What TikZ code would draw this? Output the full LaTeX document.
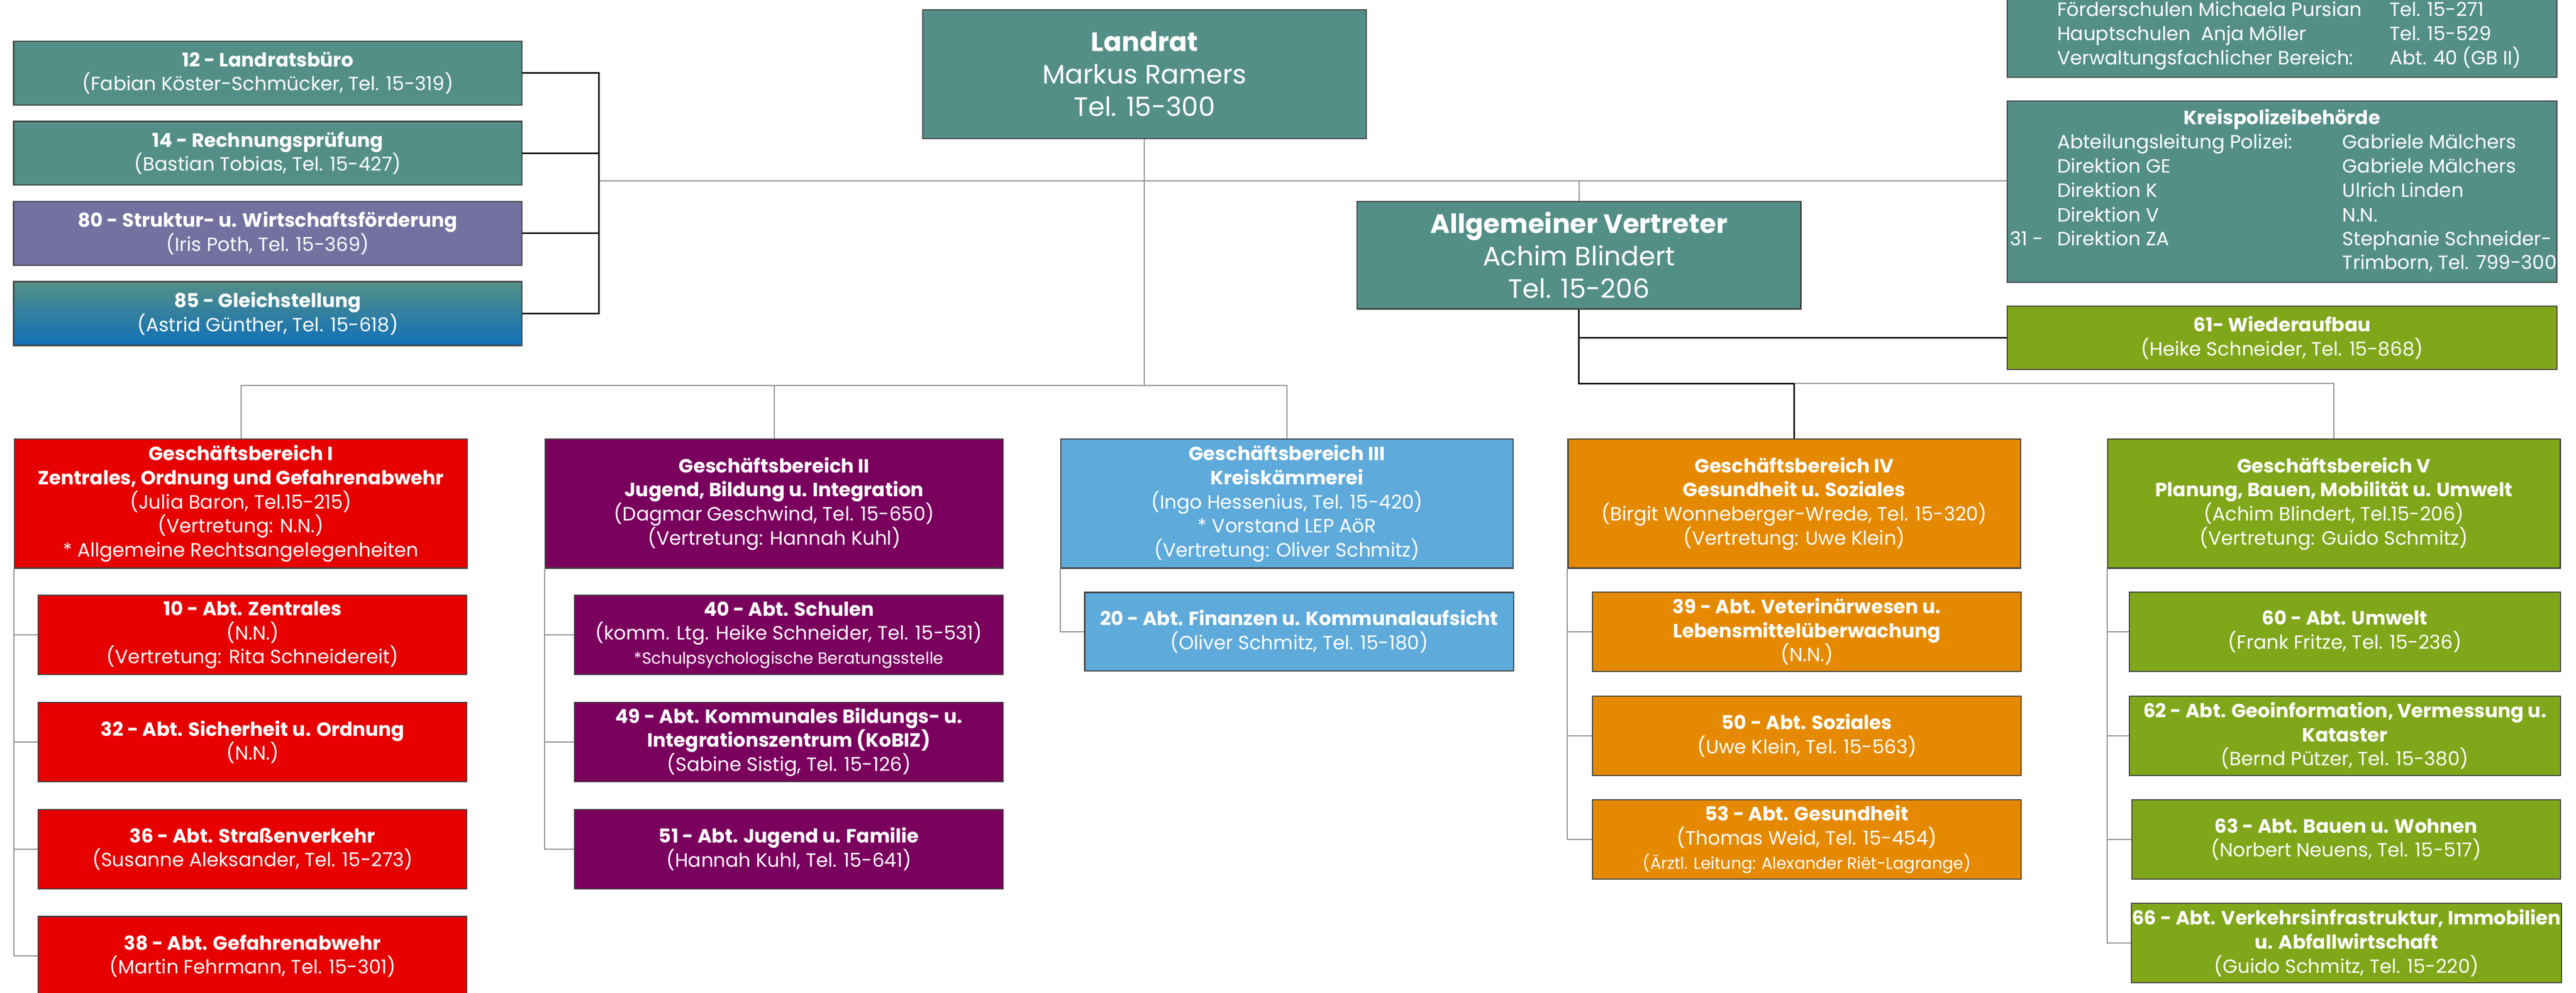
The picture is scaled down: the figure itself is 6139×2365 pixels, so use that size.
\documentclass[tikz,border=0pt]{standalone}
\usepackage{fontspec}
\setmainfont{Poppins}
\definecolor{lrteal}{RGB}{84,143,135}
\definecolor{wfpurple}{RGB}{116,113,160}
\definecolor{gsblue}{RGB}{16,112,184}
\definecolor{gbred}{RGB}{230,0,0}
\definecolor{gbplum}{RGB}{122,0,94}
\definecolor{gbsky}{RGB}{94,170,218}
\definecolor{gborange}{RGB}{229,138,0}
\definecolor{gbolive}{RGB}{128,166,26}
\newcommand{\kleinzeile}{\fontsize{11}{14}\selectfont}

\begin{document}
\begin{tikzpicture}[x=0.01cm, y=-0.01cm,
	box/.style={draw=black!75, line width=0.8pt, text=white, align=center, inner sep=0pt, font=\fontsize{13}{16.3}\selectfont},
	chief/.style={box, fill=lrteal, minimum width=10.57cm, font=\fontsize{18}{21.9}\selectfont},
	staff/.style={box, minimum width=12.1cm, minimum height=1.52cm},
	gbbox/.style={box, minimum width=10.78cm, minimum height=3.07cm},
	abtbox/.style={box, minimum width=10.21cm, minimum height=1.89cm},
	wide/.style={box, fill=lrteal, minimum width=13.09cm},
	rowtext/.style={text=white, inner sep=0pt, anchor=base west, font=\fontsize{13}{16.3}\selectfont},
	link/.style={draw=black!45, line width=0.7pt},
	mainlink/.style={draw=black, line width=1.1pt}]
					\useasboundingbox (0,0) rectangle (6139,2365);
					\clip (0,0) rectangle (6139,2365);

					% Landrat und Stabsstellen
					\node[chief, minimum height=3.07cm] (landrat) at (2727.5,176.5) {\textbf{Landrat}\\Markus Ramers\\Tel. 15-300};
					\node[chief, minimum height=2.56cm] (av) at (3763,608) {\textbf{Allgemeiner Vertreter}\\Achim Blindert\\Tel. 15-206};
					\node[staff, fill=lrteal] (lrb) at (638,174) {\textbf{12 - Landratsbüro}\\(Fabian Köster-Schmücker, Tel. 15-319)};
					\node[staff, fill=lrteal] (rpa) at (638,365) {\textbf{14 - Rechnungsprüfung}\\(Bastian Tobias, Tel. 15-427)};
					\node[staff, fill=wfpurple] (wfo) at (638,556) {\textbf{80 - Struktur- u. Wirtschaftsförderung}\\(Iris Poth, Tel. 15-369)};
					\node[staff, top color=lrteal, middle color=lrteal, bottom color=gsblue] (gst) at (638,747) {\textbf{85 - Gleichstellung}\\(Astrid Günther, Tel. 15-618)};

					% rechte Spalte
					\node[wide, minimum height=3.0cm] (schul) at (5438.5,34) {};
					\node[rowtext] (schul1) at (4902,39) {Förderschulen Michaela Pursian};
					\node[rowtext] (schul2) at (4902,96) {Hauptschulen\ \ Anja Möller};
					\node[rowtext] (schul3) at (4902,154) {Verwaltungsfachlicher Bereich:};
					\node[rowtext] (schul1r) at (5694,39) {Tel. 15-271};
					\node[rowtext] (schul2r) at (5694,96) {Tel. 15-529};
					\node[rowtext] (schul3r) at (5694,154) {Abt. 40 (GB II)};

					\node[wide, minimum height=4.32cm] (kpb) at (5438.5,457) {};
					\node[rowtext, anchor=base] (kpbtitle) at (5438.5,297) {\textbf{Kreispolizeibehörde}};
					\node[rowtext] (kpb1) at (4902,354) {Abteilungsleitung Polizei:};
					\node[rowtext] (kpb2) at (4902,412) {Direktion GE};
					\node[rowtext] (kpb3) at (4902,469) {Direktion K};
					\node[rowtext] (kpb4) at (4902,528) {Direktion V};
					\node[rowtext] (kpb5) at (4902,585) {Direktion ZA};
					\node[rowtext] (kpbnr) at (4790,585) {31 -};
					\node[rowtext] (kpb1r) at (5582,354) {Gabriele Mälchers};
					\node[rowtext] (kpb2r) at (5582,412) {Gabriele Mälchers};
					\node[rowtext] (kpb3r) at (5582,469) {Ulrich Linden};
					\node[rowtext] (kpb4r) at (5582,528) {N.N.};
					\node[rowtext] (kpb5r) at (5582,585) {Stephanie Schneider-};
					\node[rowtext] (kpb6r) at (5582,642) {Trimborn, Tel. 799-300};

					\node[wide, fill=gbolive, minimum height=1.51cm] (war) at (5438.5,805) {\textbf{61- Wiederaufbau}\\(Heike Schneider, Tel. 15-868)};

					% Geschaeftsbereiche
					\node[gbbox, fill=gbred] (gb1) at (574,1200) {\textbf{Geschäftsbereich I}\\\textbf{Zentrales, Ordnung und Gefahrenabwehr}\\(Julia Baron, Tel.15-215)\\(Vertretung: N.N.)\\* Allgemeine Rechtsangelegenheiten};
					\node[gbbox, fill=gbplum, minimum width=10.9cm] (gb2) at (1845,1200) {\textbf{Geschäftsbereich II}\\\textbf{Jugend, Bildung u. Integration}\\(Dagmar Geschwind, Tel. 15-650)\\(Vertretung: Hannah Kuhl)};
					\node[gbbox, fill=gbsky] (gb3) at (3067,1200) {\textbf{Geschäftsbereich III}\\\textbf{Kreiskämmerei}\\(Ingo Hessenius, Tel. 15-420)\\* Vorstand LEP AöR\\(Vertretung: Oliver Schmitz)};
					\node[gbbox, fill=gborange] (gb4) at (4276,1200) {\textbf{Geschäftsbereich IV}\\\textbf{Gesundheit u. Soziales}\\(Birgit Wonneberger-Wrede, Tel. 15-320)\\(Vertretung: Uwe Klein)};
					\node[gbbox, fill=gbolive] (gb5) at (5562,1200) {\textbf{Geschäftsbereich V}\\\textbf{Planung, Bauen, Mobilität u. Umwelt}\\(Achim Blindert, Tel.15-206)\\(Vertretung: Guido Schmitz)};

					% Abteilungen
					\node[abtbox, fill=gbred] (a10) at (602,1513) {\textbf{10 - Abt. Zentrales}\\(N.N.)\\(Vertretung: Rita Schneidereit)};
					\node[abtbox, fill=gbred] (a32) at (602,1768) {\textbf{32 - Abt. Sicherheit u. Ordnung}\\(N.N.)};
					\node[abtbox, fill=gbred] (a36) at (602,2023) {\textbf{36 - Abt. Straßenverkehr}\\(Susanne Aleksander, Tel. 15-273)};
					\node[abtbox, fill=gbred] (a38) at (602,2278) {\textbf{38 - Abt. Gefahrenabwehr}\\(Martin Fehrmann, Tel. 15-301)};
					\node[abtbox, fill=gbplum] (a40) at (1880,1513) {\textbf{40 - Abt. Schulen}\\(komm. Ltg. Heike Schneider, Tel. 15-531)\\{\kleinzeile *Schulpsychologische Beratungsstelle}};
					\node[abtbox, fill=gbplum] (a49) at (1880,1768) {\textbf{49 - Abt. Kommunales Bildungs- u.}\\\textbf{Integrationszentrum (KoBIZ)}\\(Sabine Sistig, Tel. 15-126)};
					\node[abtbox, fill=gbplum] (a51) at (1880,2023) {\textbf{51 - Abt. Jugend u. Familie}\\(Hannah Kuhl, Tel. 15-641)};
					\node[abtbox, fill=gbsky, minimum height=1.87cm] (a20) at (3096,1505) {\textbf{20 - Abt. Finanzen u. Kommunalaufsicht}\\(Oliver Schmitz, Tel. 15-180)};
					\node[abtbox, fill=gborange] (a39) at (4306,1505) {\textbf{39 - Abt. Veterinärwesen u.}\\\textbf{Lebensmittelüberwachung}\\(N.N.)};
					\node[abtbox, fill=gborange] (a50) at (4306,1753) {\textbf{50 - Abt. Soziales}\\(Uwe Klein, Tel. 15-563)};
					\node[abtbox, fill=gborange] (a53) at (4306,2000) {\textbf{53 - Abt. Gesundheit}\\(Thomas Weid, Tel. 15-454)\\{\kleinzeile (Ärztl. Leitung: Alexander Riët-Lagrange)}};
					\node[abtbox, fill=gbolive, minimum width=10.27cm] (a60) at (5588,1505) {\textbf{60 - Abt. Umwelt}\\(Frank Fritze, Tel. 15-236)};
					\node[abtbox, fill=gbolive, minimum width=10.27cm] (a62) at (5588,1753) {\textbf{62 - Abt. Geoinformation, Vermessung u.}\\\textbf{Kataster}\\(Bernd Pützer, Tel. 15-380)};
					\node[abtbox, fill=gbolive, minimum width=10.21cm] (a63) at (5591,2000) {\textbf{63 - Abt. Bauen u. Wohnen}\\(Norbert Neuens, Tel. 15-517)};
					\node[abtbox, fill=gbolive, minimum width=10.24cm] (a66) at (5592,2247) {\textbf{66 - Abt. Verkehrsinfrastruktur, Immobilien}\\\textbf{u. Abfallwirtschaft}\\(Guido Schmitz, Tel. 15-220)};

					% Verbindungen
					\coordinate (stabbus) at (1427,431);
					\coordinate (lrbus) at (2727.5,918);
					\coordinate (avbus) at (3763,914);
					\draw[link] (stabbus) -- (kpb.west |- stabbus);
					\draw[link] (av.north) -- (av.north |- stabbus);
					\draw[link] (landrat.south) -- (lrbus);
					\draw[link] (gb1.north) |- (lrbus) -| (gb3.north);
					\draw[link] (gb2.north) -- (gb2.north |- lrbus);
					\draw[mainlink] (lrb.east) -| (stabbus) |- (gst.east);
					\draw[mainlink] (rpa.east) -- (rpa.east -| stabbus);
					\draw[mainlink] (wfo.east) -- (wfo.east -| stabbus);
					\draw[mainlink] (av.south) -- (avbus) -| (gb4.north);
					\draw[mainlink] (av.south |- war.west) -- (war.west);
					\draw[link] (gb4.north |- avbus) -| (gb5.north);

					\draw[link] (gb1.south west) |- (a38.west);
					\draw[link] (a10.west) -- (a10.west -| gb1.south west);
					\draw[link] (a32.west) -- (a32.west -| gb1.south west);
					\draw[link] (a36.west) -- (a36.west -| gb1.south west);
					\draw[link] (gb2.south west) |- (a51.west);
					\draw[link] (a40.west) -- (a40.west -| gb2.south west);
					\draw[link] (a49.west) -- (a49.west -| gb2.south west);
					\draw[link] (gb3.south west) |- (a20.west);
					\draw[link] (gb4.south west) |- (a53.west);
					\draw[link] (a39.west) -- (a39.west -| gb4.south west);
					\draw[link] (a50.west) -- (a50.west -| gb4.south west);
					\draw[link] (gb5.south west) |- (a66.west);
					\draw[link] (a60.west) -- (a60.west -| gb5.south west);
					\draw[link] (a62.west) -- (a62.west -| gb5.south west);
					\draw[link] (a63.west) -- (a63.west -| gb5.south west);
				\end{tikzpicture}
\end{document}
